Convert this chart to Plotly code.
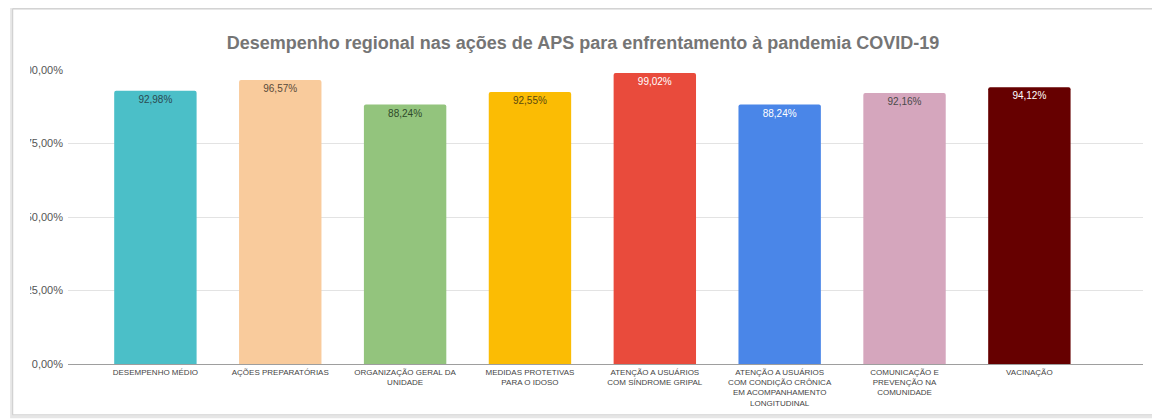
import plotly.graph_objects as go

categories = [
    "DESEMPENHO MÉDIO",
    "AÇÕES PREPARATÓRIAS",
    "ORGANIZAÇÃO GERAL DA<br>UNIDADE",
    "MEDIDAS PROTETIVAS<br>PARA O IDOSO",
    "ATENÇÃO A USUÁRIOS<br>COM SÍNDROME GRIPAL",
    "ATENÇÃO A USUÁRIOS<br>COM CONDIÇÃO CRÔNICA<br>EM ACOMPANHAMENTO<br>LONGITUDINAL",
    "COMUNICAÇÃO E<br>PREVENÇÃO NA<br>COMUNIDADE",
    "VACINAÇÃO",
]
values = [92.98, 96.57, 88.24, 92.55, 99.02, 88.24, 92.16, 94.12]
bar_colors = ["#4bbfc8", "#f9cb9c", "#93c47d", "#fbbc04", "#e94b3c", "#4a86e8", "#d5a6bd", "#660000"]
label_colors = ["#2b4a52", "#5a4a3a", "#2f4a2a", "#5a4a10", "#ffffff", "#ffffff", "#4a4a4a", "#ffffff"]
y_ticks = [0, 25, 50, 75, 100]
y_tick_text = ["0,00%", "25,00%", "50,00%", "75,00%", "100,00%"]

# page has an 8px body margin; figure is sized so the page is 1160x420
OFF = 8
W, H = 1160 - OFF, 420 - OFF
# plot area in page pixel coordinates
PX0, PX1, PY0, PY1 = 65, 1143, 70, 365
L, R, T, B = PX0 - OFF, W - (PX1 - OFF), PY0 - OFF, H - (PY1 - OFF)
pw, ph = PX1 - PX0, PY1 - PY0

def px(x):
    return (x - PX0) / pw

def py(y):
    return (PY1 - y) / ph

texts = [f"{v:.2f}%".replace(".", ",") for v in values]

fig = go.Figure(go.Bar(
    x=list(range(len(categories))),
    y=values,
    marker=dict(color=bar_colors, line=dict(width=0), cornerradius=2),
    width=0.66,
    text=texts,
    textposition="inside",
    insidetextanchor="end",
    textangle=0,
    textfont=dict(size=10, color=label_colors, family="Arial"),
    hoverinfo="skip",
))

fig.update_layout(
    width=W, height=H,
    margin=dict(l=L, r=R, t=T, b=B),
    paper_bgcolor="white",
    plot_bgcolor="white",
    showlegend=False,
    title=dict(
        text="<b>Desempenho regional nas ações de APS para enfrentamento à pandemia COVID-19</b>",
        x=(583 - OFF) / W, xref="container", xanchor="center",
        y=1 - (43 - OFF) / H, yref="container", yanchor="middle",
        font=dict(size=18, color="#757575", family="Arial"),
    ),
    xaxis=dict(
        tickmode="array",
        tickvals=list(range(len(categories))),
        ticktext=categories,
        range=[-0.70, 7.91],
        showline=True, linecolor="#9e9e9e", linewidth=1,
        showgrid=False, ticks="",
        tickfont=dict(size=8, color="#444444", family="Arial"),
        tickangle=0,
    ),
    yaxis=dict(
        range=[0, 100],
        tickmode="array",
        tickvals=y_ticks,
        ticktext=y_tick_text,
        showgrid=True, gridcolor="#e3e3e3", gridwidth=1,
        zeroline=False, showline=False, ticks="",
        ticklabelstandoff=4,
        tickfont=dict(size=11, color="#555555", family="Arial"),
    ),
    shapes=[
        # crop mask over the left edge of the y tick labels
        dict(type="rect", xref="paper", yref="paper",
             x0=px(10), x1=px(27), y0=py(400), y1=py(20),
             fillcolor="white", line=dict(width=0), layer="above"),
        # card shadow
        dict(type="rect", xref="paper", yref="paper",
             x0=px(8.5), x1=px(1157), y0=py(418), y1=py(8),
             line=dict(color="#e6e6e6", width=3), layer="above"),
        # card border
        dict(type="rect", xref="paper", yref="paper",
             x0=px(9.5), x1=px(1155), y0=py(416), y1=py(8.5),
             line=dict(color="#cfcfcf", width=1), layer="above"),
    ],
)

fig.write_html("out.html")
